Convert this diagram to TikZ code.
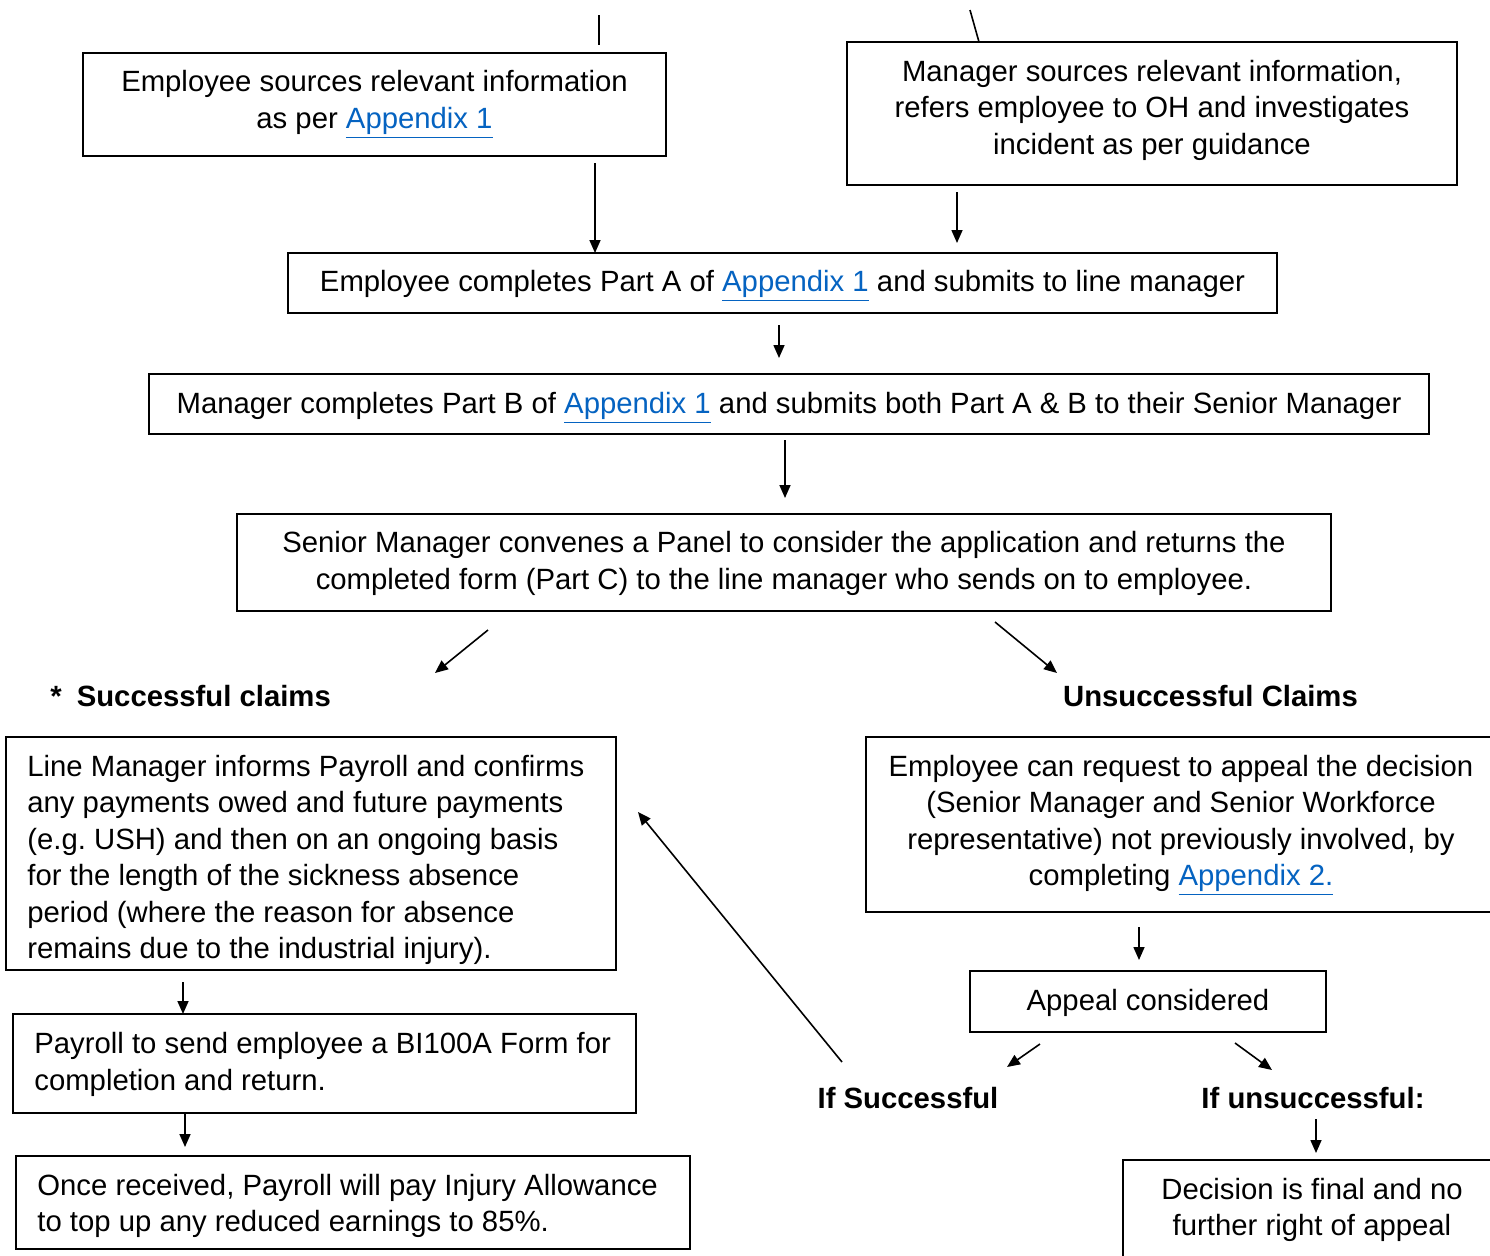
\documentclass[tikz,border=0pt]{standalone}
\usepackage{fontspec}
\setmainfont{Liberation Sans}
\usetikzlibrary{arrows.meta}
\definecolor{linkblue}{HTML}{0563C1}
\newcommand{\lnk}[1]{{\color{linkblue}\underline{#1}}}
\frenchspacing
\begin{document}
\begin{tikzpicture}[x=0.5pt,y=-0.5pt,
  font=\fontsize{14.65}{18.25}\selectfont\frenchspacing,
  box/.style={draw, line width=1pt, inner sep=0pt},
  ctext/.style={inner sep=0pt, align=center},
  ltext/.style={inner sep=0pt, align=left, anchor=west},
  arr/.style={line width=0.8pt, -{Triangle[length=6.5pt,width=5.5pt]}},
  plain/.style={line width=0.8pt},
  lbl/.style={font=\fontsize{14.65}{18.25}\selectfont\bfseries, inner sep=0pt}]
\clip (0,0) rectangle (1490,1255);
\fill[white] (0,0) rectangle (1490,1255);

% boxes (frames)
\node[box, minimum width=291.5pt, minimum height=51.5pt] (esrc) at (374.5,104.5) {};
\node[box, minimum width=305pt, minimum height=71.5pt] (msrc) at (1152,113.5) {};
\node[box, minimum width=494.5pt, minimum height=30pt] (partA) at (782.5,283) {};
\node[box, minimum width=640pt, minimum height=30pt] (partB) at (789,404) {};
\node[box, minimum width=547pt, minimum height=48.5pt] (panel) at (784,562.5) {};
\node[box, minimum width=305pt, minimum height=116.5pt] (payinf) at (311,853.5) {};
\node[box, minimum width=315pt, minimum height=87.5pt] (appeal) at (1181,824.5) {};
\node[box, minimum width=178pt, minimum height=30.5pt] (apcons) at (1148,1001.5) {};
\node[box, minimum width=189pt, minimum height=51pt] (final) at (1312,1211) {};
\node[box, minimum width=311.5pt, minimum height=49.5pt] (bi100) at (324.5,1063.5) {};
\node[box, minimum width=337pt, minimum height=46.5pt] (allow) at (353,1202.5) {};

% box texts
\node[ctext] (esrc-t) at (374.5,104.5)
  {Employee sources relevant information\\as per \lnk{Appendix 1}};
\node[ctext] (msrc-t) at (1152,110)
  {Manager sources relevant information,\\refers employee to OH and investigates\\incident as per guidance};
\node[ctext] (partA-t) at (782.5,286)
  {Employee completes Part A of \lnk{Appendix 1} and submits to line manager};
\node[ctext] (partB-t) at (789,408)
  {Manager completes Part B of \lnk{Appendix 1} and submits both Part A \& B to their Senior Manager};
\node[ctext] (panel-t) at (784,563.5)
  {Senior Manager convenes a Panel to consider the application and returns the\\completed form (Part C) to the line manager who sends on to employee.};
\node[ltext] (payinf-t) at (27,860)
  {Line Manager informs Payroll and confirms\\any payments owed and future payments\\(e.g. USH) and then on an ongoing basis\\for the length of the sickness absence\\period (where the reason for absence\\remains due to the industrial injury).};
\node[ctext] (appeal-t) at (1181,825.5)
  {Employee can request to appeal the decision\\(Senior Manager and Senior Workforce\\representative) not previously involved, by\\completing \lnk{Appendix 2.}};
\node[ctext] (apcons-t) at (1148,1002.5) {Appeal considered};
\node[ctext] (final-t) at (1312,1210) {Decision is final and no\\further right of appeal};
\node[ltext] (bi100-t) at (34,1064.5)
  {Payroll to send employee a BI100A Form for\\completion and return.};
\node[ltext] (allow-t) at (37,1206)
  {Once received, Payroll will pay Injury Allowance\\to top up any reduced earnings to 85\%.};

% labels
\node[lbl, anchor=west] (succ) at (50,696) {*\hspace{7.5pt}Successful claims};
\node[lbl] (unsucc) at (1210.5,696) {Unsuccessful Claims};
\node[lbl] (ifsucc) at (908,1098) {If Successful};
\node[lbl] (ifunsucc) at (1313,1098) {If unsuccessful:};

% connector end points
\coordinate (t1a) at (599,15);   \coordinate (t1b) at (599,45);
\coordinate (t2a) at (970,10);   \coordinate (t2b) at (979,42);
\coordinate (a3a) at (595,163);  \coordinate (a3b) at (595,253);
\coordinate (a4a) at (957,192);  \coordinate (a4b) at (957,243);
\coordinate (a5a) at (779,325);  \coordinate (a5b) at (779,358);
\coordinate (a6a) at (785,440);  \coordinate (a6b) at (785,498);
\coordinate (a7a) at (488,630);  \coordinate (a7b) at (435,673);
\coordinate (a8a) at (995,622);  \coordinate (a8b) at (1057,673);
\coordinate (a9a) at (183,982);  \coordinate (a9b) at (183,1014);
\coordinate (a10a) at (185,1113); \coordinate (a10b) at (185,1147);
\coordinate (a11a) at (1139,927); \coordinate (a11b) at (1139,960);
\coordinate (a12a) at (1040,1044); \coordinate (a12b) at (1007,1067);
\coordinate (a13a) at (1235,1043); \coordinate (a13b) at (1272,1070);
\coordinate (a14a) at (1316,1119); \coordinate (a14b) at (1316,1153);
\coordinate (a15a) at (842,1062); \coordinate (a15b) at (638,812);

% connectors
\draw[plain] (t1a) -- (t1b);
\draw[plain] (t2a) -- (t2b);
\draw[arr] (a3a) -- (a3b);
\draw[arr] (a4a) -- (a4b);
\draw[arr] (a5a) -- (a5b);
\draw[arr] (a6a) -- (a6b);
\draw[arr] (a7a) -- (a7b);
\draw[arr] (a8a) -- (a8b);
\draw[arr] (a9a) -- (a9b);
\draw[arr] (a10a) -- (a10b);
\draw[arr] (a11a) -- (a11b);
\draw[arr] (a12a) -- (a12b);
\draw[arr] (a13a) -- (a13b);
\draw[arr] (a14a) -- (a14b);
\draw[arr] (a15a) -- (a15b);
\end{tikzpicture}
\end{document}
